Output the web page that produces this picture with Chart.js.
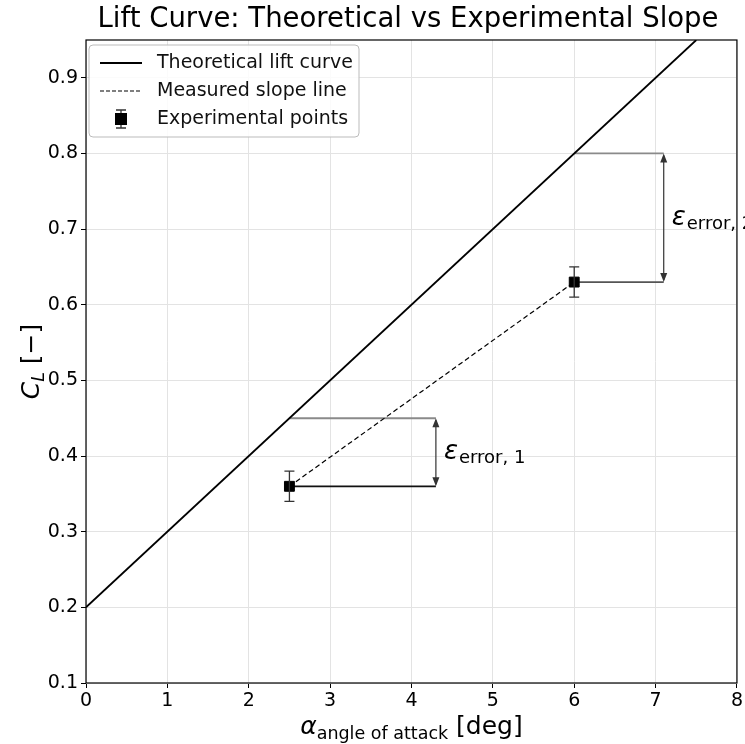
<!DOCTYPE html>
<html>
<head>
<meta charset="utf-8">
<script src="https://cdn.jsdelivr.net/npm/chart.js@4/dist/chart.umd.min.js"></script>
<style>
  body { margin: 0; background: #fff; }
  canvas { display: block; }
</style>
</head>
<body>
<canvas id="liftChart" width="745" height="744"></canvas>
<script>
// theoretical lift curve (visible part)
const alphaTheory = [0, 7.5];
const clTheory = [0.2, 0.95];

// experimental points
const alphaExp = [2.5, 6];
const clExp = [0.36, 0.63];
const clErr = [0.02, 0.02];

// error annotations: theory value at the same alpha, end of the bracket lines
const clTheoryAtExp = [0.45, 0.8];
const bracketEnd = [4.3, 7.1];
const errLabels = ["error, 1", "error, 2"];

const xTicks = [0, 1, 2, 3, 4, 5, 6, 7, 8];
const yTicks = [0.1, 0.2, 0.3, 0.4, 0.5, 0.6, 0.7, 0.8, 0.9];

const FONT = "DejaVu Sans";

function pts(xs, ys) {
  return xs.map((x, i) => ({ x: x, y: ys[i] }));
}

const datasets = [
  {
    label: "Experimental points",
    data: pts(alphaExp, clExp),
    showLine: false,
    pointStyle: "rect",
    pointRadius: 7,
    backgroundColor: "#000",
    borderColor: "#000",
    order: 0
  },
  {
    label: "Theoretical lift curve",
    data: pts(alphaTheory, clTheory),
    showLine: true,
    borderColor: "#000",
    borderWidth: 1.8,
    pointRadius: 0,
    order: 2
  },
  {
    label: "Measured slope line",
    data: pts(alphaExp, clExp),
    showLine: true,
    borderColor: "#000",
    borderWidth: 1.2,
    borderDash: [5, 3],
    pointRadius: 0,
    order: 1
  }
];

// bracket lines for each error
alphaExp.forEach((a, i) => {
  datasets.push({
    label: "theory ref " + (i + 1),
    data: pts([a, bracketEnd[i]], [clTheoryAtExp[i], clTheoryAtExp[i]]),
    showLine: true,
    borderColor: "#8a8a8a",
    borderWidth: 1.8,
    pointRadius: 0,
    order: 3
  });
  datasets.push({
    label: "measured ref " + (i + 1),
    data: pts([a, bracketEnd[i]], [clExp[i], clExp[i]]),
    showLine: true,
    borderColor: i === 0 ? "#111" : "#555",
    borderWidth: 1.8,
    pointRadius: 0,
    order: 3
  });
});

// error bars, arrows, frame, titles and legend
const extras = {
  id: "extras",
  afterDatasetsDraw(chart) {
    const ctx = chart.ctx;
    const xs = chart.scales.x, ys = chart.scales.y;
    ctx.save();
    // error bars
    ctx.strokeStyle = "#333";
    ctx.lineWidth = 1.3;
    alphaExp.forEach((a, i) => {
      const px = xs.getPixelForValue(a);
      const top = ys.getPixelForValue(clExp[i] + clErr[i]);
      const bot = ys.getPixelForValue(clExp[i] - clErr[i]);
      ctx.beginPath();
      ctx.moveTo(px, top); ctx.lineTo(px, bot);
      ctx.moveTo(px - 5, top); ctx.lineTo(px + 5, top);
      ctx.moveTo(px - 5, bot); ctx.lineTo(px + 5, bot);
      ctx.stroke();
    });
    // double arrows
    ctx.strokeStyle = "#333";
    ctx.fillStyle = "#333";
    ctx.lineWidth = 1.2;
    alphaExp.forEach((a, i) => {
      const px = xs.getPixelForValue(bracketEnd[i]);
      const yTop = ys.getPixelForValue(clTheoryAtExp[i]);
      const yBot = ys.getPixelForValue(clExp[i]);
      ctx.beginPath();
      ctx.moveTo(px, yTop + 2); ctx.lineTo(px, yBot - 2);
      ctx.stroke();
      ctx.beginPath();
      ctx.moveTo(px, yTop); ctx.lineTo(px - 3.5, yTop + 9); ctx.lineTo(px + 3.5, yTop + 9); ctx.closePath();
      ctx.moveTo(px, yBot); ctx.lineTo(px - 3.5, yBot - 9); ctx.lineTo(px + 3.5, yBot - 9); ctx.closePath();
      ctx.fill();
      // epsilon label
      const ly = (yTop + yBot) / 2 + 7;
      ctx.fillStyle = "#000";
      ctx.textAlign = "left";
      ctx.textBaseline = "alphabetic";
      ctx.font = "italic 26px '" + FONT + "'";
      ctx.fillText("ε", px + 8, ly);
      const w = ctx.measureText("ε").width;
      ctx.font = "18px '" + FONT + "'";
      ctx.fillText(errLabels[i], px + 8 + w + 1, ly + 4);
      ctx.fillStyle = "#333";
    });
    ctx.restore();
  },
  afterDraw(chart) {
    const ctx = chart.ctx;
    const a = chart.chartArea;
    ctx.save();
    // frame
    ctx.strokeStyle = "#000";
    ctx.lineWidth = 1.2;
    ctx.strokeRect(a.left, a.top, a.right - a.left, a.bottom - a.top);

    // title
    ctx.fillStyle = "#000";
    ctx.textAlign = "center";
    ctx.textBaseline = "middle";
    ctx.font = "27.5px '" + FONT + "'";
    ctx.fillText("Lift Curve: Theoretical vs Experimental Slope", 408, 20);

    // x axis title: alpha with subscript
    ctx.textBaseline = "alphabetic";
    ctx.textAlign = "left";
    const xMain = "α", xSub = "angle of attack", xTail = " [deg]";
    ctx.font = "italic 25px '" + FONT + "'";
    const w1 = ctx.measureText(xMain).width;
    ctx.font = "17.5px '" + FONT + "'";
    const w2 = ctx.measureText(xSub).width;
    ctx.font = "25px '" + FONT + "'";
    const w3 = ctx.measureText(xTail).width;
    let sx = (a.left + a.right) / 2 - (w1 + w2 + w3) / 2;
    const by = 734;
    ctx.font = "italic 25px '" + FONT + "'";
    ctx.fillText(xMain, sx, by);
    ctx.font = "17.5px '" + FONT + "'";
    ctx.fillText(xSub, sx + w1, by + 5);
    ctx.font = "25px '" + FONT + "'";
    ctx.fillText(xTail, sx + w1 + w2, by);

    // y axis title: C_L [−]
    ctx.save();
    ctx.translate(39, (a.top + a.bottom) / 2);
    ctx.rotate(-Math.PI / 2);
    ctx.font = "italic 25px '" + FONT + "'";
    const c1 = ctx.measureText("C").width;
    ctx.font = "italic 17.5px '" + FONT + "'";
    const c2 = ctx.measureText("L").width;
    ctx.font = "25px '" + FONT + "'";
    const c3 = ctx.measureText(" [−]").width;
    let tx = -(c1 + c2 + c3) / 2;
    ctx.font = "italic 25px '" + FONT + "'";
    ctx.fillText("C", tx, 0);
    ctx.font = "italic 17.5px '" + FONT + "'";
    ctx.fillText("L", tx + c1, 5);
    ctx.font = "25px '" + FONT + "'";
    ctx.fillText(" [−]", tx + c1 + c2, 0);
    ctx.restore();

    // legend
    const lx = a.left + 3, ly = a.top + 5, lw = 270, lh = 92;
    ctx.fillStyle = "rgba(255,255,255,0.85)";
    ctx.strokeStyle = "#bbb";
    ctx.lineWidth = 1;
    ctx.beginPath();
    ctx.roundRect(lx, ly, lw, lh, 4);
    ctx.fill();
    ctx.stroke();
    const rows = [ly + 18, ly + 46, ly + 74];
    ctx.strokeStyle = "#000";
    ctx.lineWidth = 1.8;
    ctx.beginPath();
    ctx.moveTo(lx + 11, rows[0]); ctx.lineTo(lx + 53, rows[0]);
    ctx.stroke();
    ctx.lineWidth = 1.2;
    ctx.setLineDash([4, 2]);
    ctx.beginPath();
    ctx.moveTo(lx + 11, rows[1]); ctx.lineTo(lx + 53, rows[1]);
    ctx.stroke();
    ctx.setLineDash([]);
    const mx = lx + 32;
    ctx.lineWidth = 1.3;
    ctx.strokeStyle = "#333";
    ctx.beginPath();
    ctx.moveTo(mx, rows[2] - 9); ctx.lineTo(mx, rows[2] + 9);
    ctx.moveTo(mx - 5, rows[2] - 9); ctx.lineTo(mx + 5, rows[2] - 9);
    ctx.moveTo(mx - 5, rows[2] + 9); ctx.lineTo(mx + 5, rows[2] + 9);
    ctx.stroke();
    ctx.fillStyle = "#000";
    ctx.fillRect(mx - 6, rows[2] - 6, 12, 12);
    ctx.font = "19px '" + FONT + "'";
    ctx.textAlign = "left";
    ctx.textBaseline = "middle";
    ctx.fillStyle = "#111";
    const names = ["Theoretical lift curve", "Measured slope line", "Experimental points"];
    names.forEach((n, i) => ctx.fillText(n, lx + 68, rows[i]));
    ctx.restore();
  }
};

new Chart(document.getElementById("liftChart").getContext("2d"), {
  type: "scatter",
  data: { datasets: datasets },
  options: {
    responsive: false,
    animation: false,
    devicePixelRatio: 1,
    layout: { padding: { top: 40, right: 6, left: 0, bottom: 0 } },
    plugins: {
      legend: { display: false },
      tooltip: { enabled: false },
      title: { display: false }
    },
    scales: {
      x: {
        type: "linear",
        min: 0,
        max: 8,
        afterBuildTicks: s => { s.ticks = xTicks.map(v => ({ value: v })); },
        afterFit: s => { s.height = 61; },
        grid: { color: "#e3e3e3", lineWidth: 1, tickColor: "#000", tickLength: 5 },
        border: { display: false },
        ticks: {
          color: "#000",
          padding: 2,
          maxRotation: 0,
          font: { family: FONT, size: 19 },
          callback: v => String(v)
        }
      },
      y: {
        type: "linear",
        min: 0.1,
        max: 0.95,
        afterBuildTicks: s => { s.ticks = yTicks.map(v => ({ value: v })); },
        afterFit: s => { s.width = 86; },
        grid: { color: "#e3e3e3", lineWidth: 1, tickColor: "#000", tickLength: 5 },
        border: { display: false },
        ticks: {
          color: "#000",
          padding: 3,
          font: { family: FONT, size: 19 },
          callback: v => v.toFixed(1)
        }
      }
    }
  },
  plugins: [extras]
});
</script>
</body>
</html>
